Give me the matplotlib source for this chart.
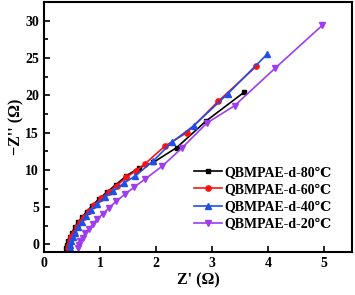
import matplotlib
matplotlib.use("Agg")
import matplotlib.pyplot as plt
from matplotlib.ticker import MultipleLocator

plt.rcParams["font.family"] = ["Liberation Serif", "DejaVu Serif"]
plt.rcParams["font.weight"] = "bold"

# Nyquist data
x80 = [0.40, 0.41, 0.43, 0.46, 0.50, 0.55, 0.61, 0.68, 0.76, 0.86, 0.98, 1.12, 1.28, 1.47, 1.70, 1.95, 2.37, 2.90, 3.57]
y80 = [-0.5, -0.1, 0.4, 1.0, 1.6, 2.3, 3.0, 3.7, 4.4, 5.2, 6.1, 7.0, 8.0, 9.2, 10.3, 11.0, 13.0, 16.6, 20.4]

x60 = [0.43, 0.44, 0.46, 0.49, 0.53, 0.58, 0.64, 0.71, 0.80, 0.90, 1.02, 1.16, 1.30, 1.47, 1.64, 1.80, 2.16, 2.55, 3.11, 3.79]
y60 = [-0.5, -0.1, 0.4, 1.0, 1.6, 2.3, 3.0, 3.7, 4.5, 5.3, 6.2, 7.1, 7.9, 9.0, 9.9, 10.8, 13.2, 15.0, 19.2, 23.9]

x40 = [0.46, 0.47, 0.49, 0.52, 0.56, 0.61, 0.67, 0.75, 0.84, 0.95, 1.08, 1.24, 1.42, 1.63, 1.95, 2.28, 2.67, 3.28, 3.98]
y40 = [-0.5, -0.1, 0.4, 1.0, 1.6, 2.3, 3.0, 3.8, 4.6, 5.4, 6.3, 7.2, 8.2, 9.2, 11.2, 13.7, 15.9, 20.2, 25.5]

x20 = [0.60, 0.62, 0.65, 0.69, 0.74, 0.80, 0.87, 0.95, 1.05, 1.16, 1.29, 1.44, 1.61, 1.81, 2.11, 2.47, 2.91, 3.40, 4.12, 4.97]
y20 = [-0.5, -0.1, 0.4, 0.9, 1.5, 2.1, 2.7, 3.4, 4.1, 4.9, 5.8, 6.7, 7.7, 8.8, 10.5, 13.0, 16.3, 18.6, 23.6, 29.4]

labels = ["QBMPAE-d-80\u2103", "QBMPAE-d-60\u2103", "QBMPAE-d-40\u2103", "QBMPAE-d-20\u2103"]

fig = plt.figure(figsize=(3.55, 2.95), dpi=100)
ax = fig.add_axes([0.124, 0.146, 0.868, 0.847])

ax.plot(x80, y80, color="black", marker="s", markersize=3.5, lw=1.2, label=labels[0])
ax.plot(x60, y60, color="#ff1010", marker="o", markersize=3.8, lw=1.2, label=labels[1])
ax.plot(x40, y40, color="#1f4fe6", marker="^", markersize=4, lw=1.2, label=labels[2])
ax.plot(x20, y20, color="#a03cf0", marker="v", markersize=4, lw=1.2, label=labels[3])

ax.set_xlim(0, 5.5)
ax.set_ylim(-1, 32.5)
ax.xaxis.set_major_locator(MultipleLocator(1))
ax.yaxis.set_major_locator(MultipleLocator(5))
ax.yaxis.set_minor_locator(MultipleLocator(2.5))
ax.tick_params(which="both", direction="in", labelsize=10, width=1.2)
ax.tick_params(which="major", length=4)
ax.tick_params(which="minor", length=3)
for s in ax.spines.values():
    s.set_linewidth(1.5)

ax.set_xlabel("Z' (\u03a9)", fontsize=11.5, fontweight="bold", labelpad=2)
ax.set_ylabel("\u2212Z'' (\u03a9)", fontsize=11.5, fontweight="bold", labelpad=1)

ax.legend(loc="lower right", frameon=False, fontsize=10, handlelength=2.0,
          handletextpad=0.2, labelspacing=0.3, borderaxespad=0.6,
          bbox_to_anchor=(0.98, 0.03))

fig.savefig("out.png", dpi=100)
